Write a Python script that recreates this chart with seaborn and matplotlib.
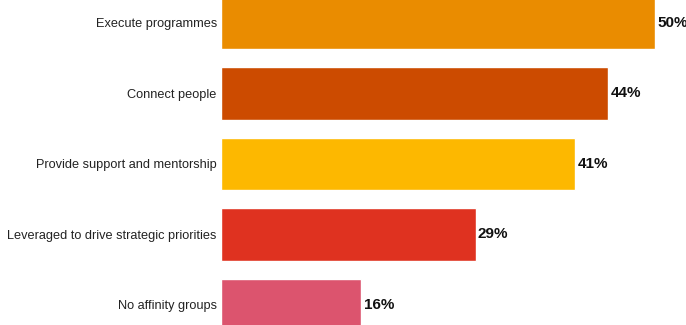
import matplotlib
matplotlib.use("Agg")
import matplotlib.pyplot as plt
import seaborn as sns
import pandas as pd

categories = ["Execute programmes", "Connect people", "Provide support and mentorship",
              "Leveraged to drive strategic priorities", "No affinity groups"]
values = [49.8, 44.4, 40.6, 29.2, 16.1]
colors = ["#EA8C00", "#CC4B00", "#FDB800", "#DF3220", "#DC546E"]

sns.set_theme(style="white")
plt.rcParams["font.family"] = ["Liberation Sans", "DejaVu Sans"]

df = pd.DataFrame({"category": categories, "value": values})

fig = plt.figure(figsize=(6.86, 3.25), dpi=100)
ax = fig.add_axes([221 / 686, 0, 1 - 221 / 686, 1])
sns.barplot(data=df, y="category", x="value", hue="category", palette=colors,
            order=categories, hue_order=categories, orient="h", width=0.75,
            legend=False, ax=ax, saturation=1)

ax.set_xlim(0, 53.3)
ax.set_ylim(4.284, -0.326)
ax.set_xlabel("")
ax.set_ylabel("")
ax.set_xticks([])
for s in ax.spines.values():
    s.set_visible(False)
ax.tick_params(axis="y", length=0, pad=3, labelsize=9.2, labelcolor="#222222")

for i, v in enumerate(values):
    ax.text(v + 0.25, i, f"{round(v):d}%", va="center", ha="left",
            fontsize=11, fontweight="bold", color="#111111")

fig.savefig("out.png", dpi=100)
